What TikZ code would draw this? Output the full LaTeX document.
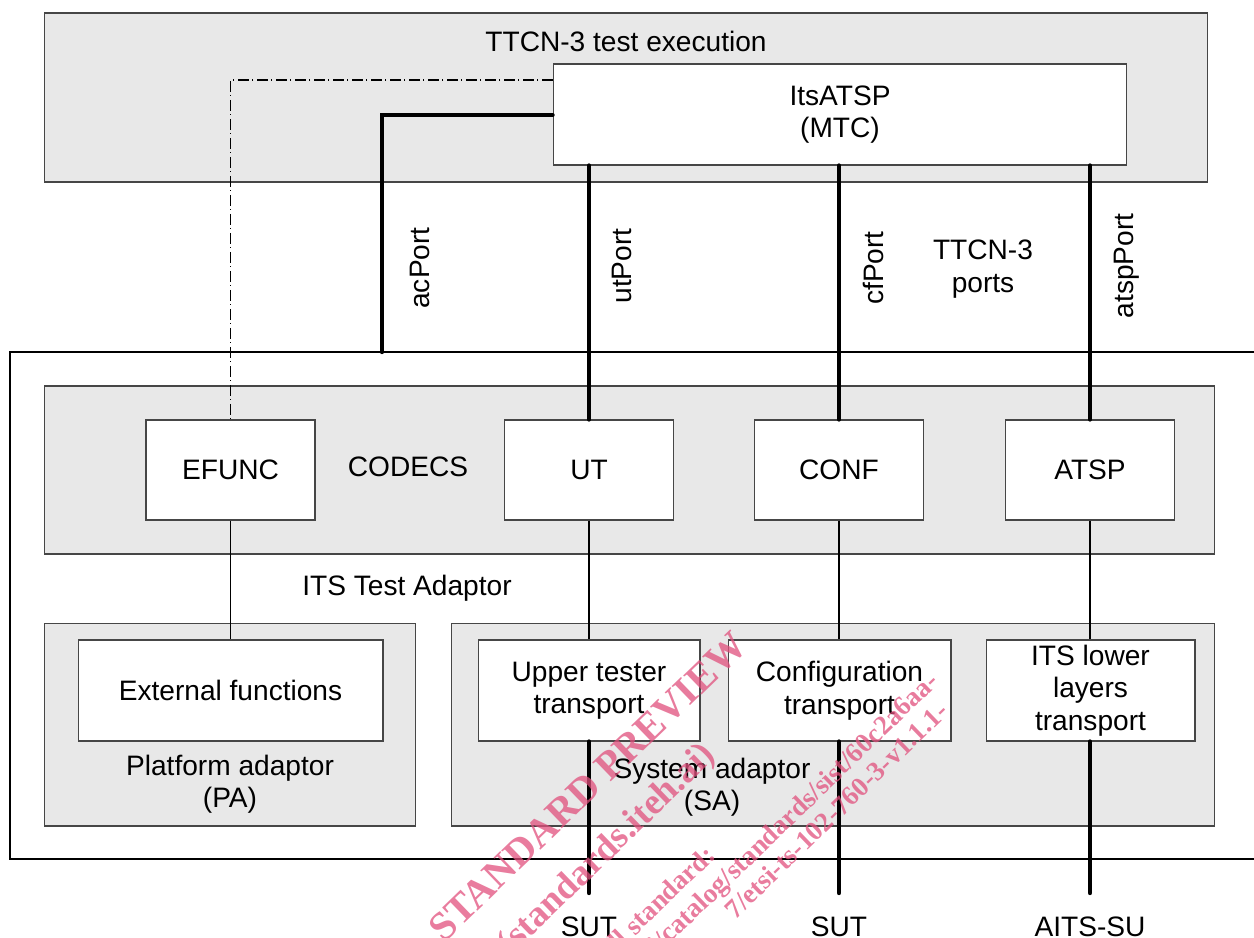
\documentclass[tikz,border=0pt]{standalone}
\usepackage{fontspec}
\setmainfont{Liberation Sans}
\newfontfamily\wmfont{Liberation Serif}
\definecolor{grpfill}{RGB}{232,232,232}
\definecolor{boxline}{RGB}{70,70,70}
\definecolor{wmpink}{RGB}{225,80,125}
\newcommand{\lbl}{\fontsize{16}{18.5}\selectfont}
\tikzset{
  grp/.style={draw=boxline, fill=grpfill, line width=0.6pt, inner sep=0pt},
  blk/.style={draw=boxline, fill=white, line width=0.6pt, inner sep=0pt,
              align=center, font=\lbl},
  txt/.style={inner sep=0pt, align=center, font=\lbl},
  portline/.style={line width=2.5pt, line cap=round},
  thinlink/.style={line width=0.6pt},
  ddline/.style={line width=0.6pt,
                 dash pattern=on 0.22cm off 0.07cm on 0.02cm off 0.07cm},
  frame/.style={line width=1.4pt},
  wm/.style={inner sep=0pt, rotate=44, anchor=base east, text=wmpink,
             opacity=0.75, font=\wmfont\bfseries},
}
\begin{document}
\begin{tikzpicture}[x=0.02cm, y=-0.02cm]
\useasboundingbox (0,0) rectangle (1254,937);
\clip (0,0) rectangle (1254,937);

% TTCN-3 test execution
\node[grp, minimum width=23.28cm, minimum height=3.38cm] (exec) at (626,97.5) {};
\node[txt] (execlbl) at (626,41) {TTCN-3 test execution};
\node[blk, minimum width=11.48cm, minimum height=2.02cm] (mtc) at (840,114.5)
  {ItsATSP\\(MTC)};

% ITS test adaptor frame (open on the right)
\draw[frame] (1254,352) -- (10,352) -- (10,859) -- (1254,859);
\node[txt] (talbl) at (407,588) {ITS Test Adaptor};

% Codecs
\node[grp, minimum width=23.42cm, minimum height=3.36cm] (codecs) at (629.5,470) {};
\node[txt] (codecslbl) at (408,467) {CODECS};
\node[blk, minimum width=3.38cm, minimum height=2cm] (efunc) at (230.5,470) {EFUNC};
\node[blk, minimum width=3.38cm, minimum height=2cm] (ut) at (589,470) {UT};
\node[blk, minimum width=3.38cm, minimum height=2cm] (conf) at (839,470) {CONF};
\node[blk, minimum width=3.38cm, minimum height=2cm] (atsp) at (1090,470) {ATSP};

% Platform adaptor
\node[grp, minimum width=7.44cm, minimum height=4.06cm] (pa) at (230,724.5) {};
\node[txt] (palbl) at (230,784) {Platform adaptor\\(PA)};
\node[blk, minimum width=6.1cm, minimum height=2.02cm] (extf) at (230.5,690.5)
  {External functions};

% System adaptor
\node[grp, minimum width=15.28cm, minimum height=4.06cm] (sa) at (833,724.5) {};
\node[txt] (salbl) at (712,787) {System adaptor\\(SA)};
\node[blk, minimum width=4.44cm, minimum height=2.02cm] (utt) at (589,690.5)
  {Upper tester\\transport};
\node[blk, minimum width=4.46cm, minimum height=2.02cm] (cft) at (839.5,690.5)
  {Configuration\\transport};
\node[blk, minimum width=4.18cm, minimum height=2.02cm] (llt) at (1090.5,690.5)
  {ITS lower\\layers\\transport};

% TTCN-3 ports
\draw[ddline] (mtc.west |- 0,80) -| (efunc.north);
\coordinate (acend) at (382,352);
\draw[portline] (mtc.west |- 0,115) -| (acend);
\draw[portline] (mtc.south -| ut.north) -- (ut.north);
\draw[portline] (mtc.south -| conf.north) -- (conf.north);
\draw[portline] (mtc.south -| atsp.north) -- (atsp.north);
\node[txt, rotate=90] (aclbl) at (420,268) {acPort};
\node[txt, rotate=90] (utlbl) at (622,266) {utPort};
\node[txt, rotate=90] (cflbl) at (873,268) {cfPort};
\node[txt, rotate=90] (atsplbl) at (1127,266) {atspPort};
\node[txt] (portslbl) at (983,269) {TTCN-3\\ports};

% Codec to transport links
\draw[thinlink] (efunc.south) -- (extf.north);
\draw[thinlink] (ut.south) -- (utt.north -| ut.south);
\draw[thinlink] (conf.south) -- (cft.north -| conf.south);
\draw[thinlink] (atsp.south) -- (llt.north -| atsp.south);

% Lines to the systems under test
\node[txt, anchor=base] (sut1) at (589,936) {SUT};
\node[txt, anchor=base] (sut2) at (839,936) {SUT};
\node[txt, anchor=base] (aits) at (1090,936) {AITS-SU};
\coordinate (e1) at (589,893);
\coordinate (e2) at (839,893);
\coordinate (e3) at (1090,893);
\draw[portline] (utt.south -| e1) -- (e1);
\draw[portline] (cft.south -| e2) -- (e2);
\draw[portline] (llt.south -| e3) -- (e3);

% Watermark
\node[wm, font=\wmfont\bfseries\fontsize{23}{23}\selectfont] (wm1) at (750,648) {STANDARD PREVIEW};
\node[wm, font=\wmfont\bfseries\fontsize{21}{21}\selectfont] (wm2) at (717,757) {(standards.iteh.ai)};
\node[wm, font=\wmfont\bfseries\fontsize{15.5}{15.5}\selectfont] (wm3) at (717,857) {Full standard:};
\node[wm, font=\wmfont\bfseries\fontsize{15.5}{15.5}\selectfont] (wm4) at (940,683) {https://standards.iteh.ai/catalog/standards/sist/60c2a6aa-};
\node[wm, font=\wmfont\bfseries\fontsize{15.5}{15.5}\selectfont] (wm5) at (950,713) {7/etsi-ts-102-760-3-v1.1.1-};
\end{tikzpicture}
\end{document}
